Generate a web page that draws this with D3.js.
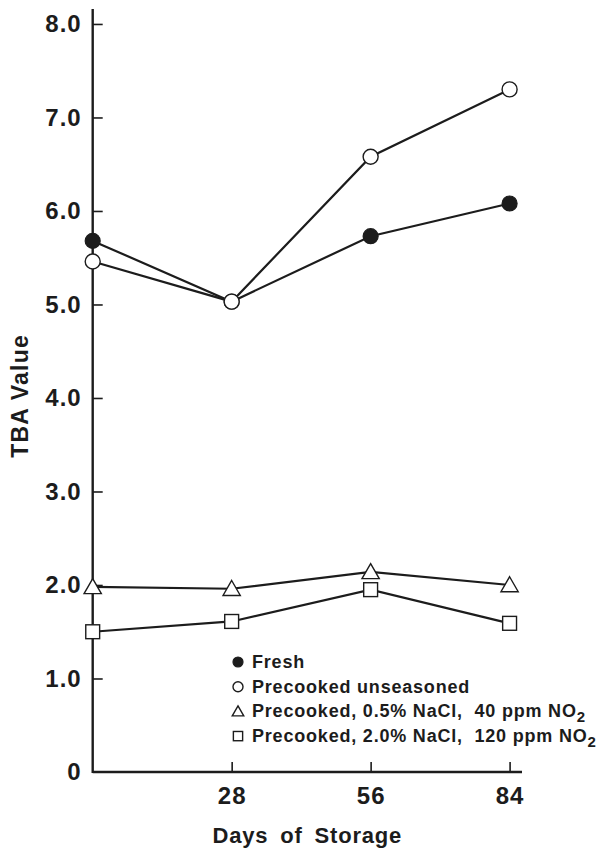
<!DOCTYPE html>
<html>
<head>
<meta charset="utf-8">
<script src="https://cdn.jsdelivr.net/npm/d3@7"></script>
<style>
  html, body { margin: 0; padding: 0; background: #fff; }
  svg { display: block; }
  text { font-family: "Liberation Sans", Arial, Helvetica, sans-serif; font-weight: bold; fill: #1c1c1c; }
</style>
</head>
<body>
<svg id="chart" width="597" height="849"></svg>
<script>
// Storage days (x) and TBA values per treatment
const days = [0, 28, 56, 84];
const freshTBA = [5.68, 5.03, 5.73, 6.08];
const unseasonedTBA = [5.46, 5.03, 6.58, 7.30];
const nacl05TBA = [1.98, 1.96, 2.14, 2.00];
const nacl20TBA = [1.50, 1.61, 1.95, 1.59];

const yTicks = [0, 1, 2, 3, 4, 5, 6, 7, 8];
const xTicks = [28, 56, 84];

const seriesNames = ["fresh", "unseasoned", "nacl05", "nacl20"];
const seriesValues = [freshTBA, unseasonedTBA, nacl05TBA, nacl20TBA];
const seriesSymbols = ["filledCircle", "openCircle", "triangle", "square"];

// Legend rows: label text and optional subscript
const legendLabels = [
  { text: "Fresh", sub: "" },
  { text: "Precooked unseasoned", sub: "" },
  { text: "Precooked, 0.5% NaCl,  40 ppm NO", sub: "2" },
  { text: "Precooked, 2.0% NaCl,  120 ppm NO", sub: "2" }
];

const ink = "#1c1c1c";
const svg = d3.select("#chart");

const x = d3.scaleLinear().domain([0, 86.5]).range([92.7, 522]);
const y = d3.scaleLinear().domain([0, 8.16]).range([772, 9]);

// Axes: ticks point inward, labels outside
const yAxis = d3.axisLeft(y)
  .tickValues(yTicks)
  .tickSizeInner(-10)
  .tickSizeOuter(0)
  .tickPadding(11)
  .tickFormat(d => d === 0 ? "0" : d3.format(".1f")(d));

const xAxis = d3.axisBottom(x)
  .tickValues(xTicks)
  .tickSizeInner(-10)
  .tickSizeOuter(0)
  .tickPadding(15)
  .tickFormat(d3.format("d"));

const gy = svg.append("g").attr("transform", `translate(${x(0)},0)`).call(yAxis);
const gx = svg.append("g").attr("transform", `translate(0,${y(0)})`).call(xAxis);

[gy, gx].forEach(g => {
  g.select(".domain").remove();
  g.selectAll(".tick line").attr("stroke", ink).attr("stroke-width", 1.6);
  g.selectAll(".tick text")
    .attr("fill", ink)
    .style("font-size", "24px")
    .style("letter-spacing", "1px")
    .style("font-family", "'Liberation Sans', Arial, sans-serif")
    .style("font-weight", "bold");
});
// No tick mark at zero on the value axis
gy.selectAll(".tick").filter(d => d === 0).select("line").remove();

// Axis lines
svg.append("line")
  .attr("x1", x(0)).attr("x2", x(0))
  .attr("y1", y.range()[0] + 1).attr("y2", y.range()[1])
  .attr("stroke", ink).attr("stroke-width", 2.4);
svg.append("line")
  .attr("x1", x(0)).attr("x2", x.range()[1])
  .attr("y1", y(0)).attr("y2", y(0))
  .attr("stroke", ink).attr("stroke-width", 2.4);

// Axis titles
svg.append("text")
  .attr("transform", `translate(28,${y(4) - 2}) rotate(-90)`)
  .attr("text-anchor", "middle")
  .style("font-size", "23px")
  .style("letter-spacing", "1.2px")
  .text("TBA Value");

svg.append("text")
  .attr("x", d3.mean(x.range()))
  .attr("y", 843)
  .attr("text-anchor", "middle")
  .style("font-size", "22px")
  .style("letter-spacing", "0.8px")
  .style("word-spacing", "5px")
  .text("Days of Storage");

// Marker drawing helper
function drawSymbol(g, kind, size) {
  if (kind === "filledCircle") {
    g.append("circle").attr("r", size).attr("fill", ink).attr("stroke", ink).attr("stroke-width", 1.2);
  } else if (kind === "openCircle") {
    g.append("circle").attr("r", size).attr("fill", "#fff").attr("stroke", ink).attr("stroke-width", 1.4);
  } else if (kind === "triangle") {
    const h = size * 2.0, w = size * 2.3;
    g.append("path")
      .attr("d", `M0,${-h * 0.55}L${w / 2},${h * 0.45}L${-w / 2},${h * 0.45}Z`)
      .attr("fill", "#fff").attr("stroke", ink).attr("stroke-width", 1.4);
  } else if (kind === "square") {
    const s = size * 1.85;
    g.append("rect").attr("x", -s / 2).attr("y", -s / 2).attr("width", s).attr("height", s)
      .attr("fill", "#fff").attr("stroke", ink).attr("stroke-width", 1.4);
  }
}

const line = d3.line().x((d, i) => x(days[i])).y(d => y(d));

// Lines, then markers on top; later series sit above earlier ones
const plot = svg.append("g");
seriesValues.forEach((vals, si) => {
  plot.append("path")
    .attr("d", line(vals))
    .attr("fill", "none")
    .attr("stroke", ink)
    .attr("stroke-width", 2.2);
});
seriesValues.forEach((vals, si) => {
  vals.forEach((v, i) => {
    const g = plot.append("g").attr("transform", `translate(${x(days[i])},${y(v)})`);
    drawSymbol(g, seriesSymbols[si], 7.5);
  });
});

// Legend
const legend = svg.append("g");
legendLabels.forEach((lab, i) => {
  const baseY = 668 + i * 24.7;
  const sg = legend.append("g").attr("transform", `translate(238,${baseY - 6})`);
  drawSymbol(sg, seriesSymbols[i], 5);
  const t = legend.append("text")
    .attr("x", 252)
    .attr("y", baseY)
    .style("font-size", "18px")
    .style("letter-spacing", "0.8px")
    .attr("xml:space", "preserve");
  t.append("tspan").text(lab.text);
  if (lab.sub) {
    t.append("tspan").attr("dy", 5).style("font-size", "15px").text(lab.sub);
  }
});
</script>
</body>
</html>
